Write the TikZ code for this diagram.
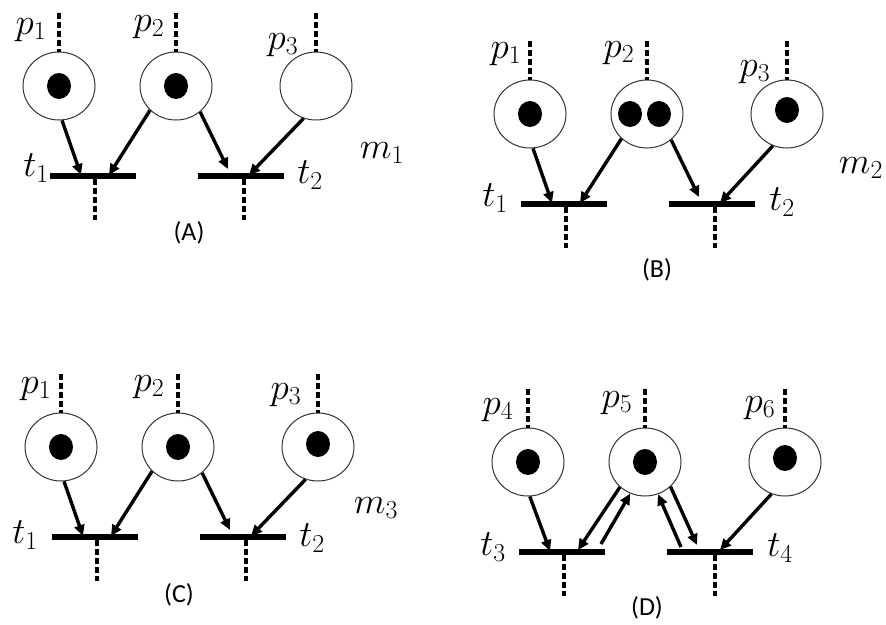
\RequirePackage{fix-cm}
\documentclass[tikz,border=0pt]{standalone}
\usepackage{fontspec}
\usepackage{tikz}
\usetikzlibrary{arrows.meta,shapes.geometric}
\newfontfamily\capfont{Carlito}

\begin{document}
\begin{tikzpicture}[x=1pt,y=-1pt,>={Triangle[length=11pt,width=10pt]},
  place/.style={ellipse,draw=black!80,line width=1pt,minimum width=72pt,minimum height=68pt,inner sep=0pt},
  bar/.style={rectangle,fill=black,minimum width=86pt,minimum height=5.5pt,inner sep=0pt},
  arc/.style={->,line width=3.4pt},
  stub/.style={line width=3.3pt,dash pattern=on 6pt off 3pt},
  lab/.style={font=\fontsize{37}{43}\selectfont,inner sep=0pt},
  paneltag/.style={font=\capfont\fontsize{26}{30}\selectfont,inner sep=0pt}]
  \useasboundingbox (0,0) rectangle (886,624);

  \begin{scope}[name prefix=a-]
    \node[place] (p1) at (59,86) {};
    \node[place] (p2) at (176,86) {};
    \node[place] (p3) at (316,86) {};
    \node[bar] (t1) at (93,176) {};
    \node[bar] (t2) at (241,176) {};
    \fill (p1) ellipse[x radius=12,y radius=13];
    \fill (p2) ellipse[x radius=12,y radius=13];
    \coordinate (in1) at (59,13);
    \coordinate (in2) at (176,13);
    \coordinate (in3) at (316,13);
    \coordinate (out1) at (95,220);
    \coordinate (out2) at (244,220);
    \coordinate (t1a) at (81,175);
    \coordinate (t1b) at (109,175);
    \coordinate (t2a) at (228,169);
    \coordinate (t2b) at (249,175);
    \draw[stub] (in1) -- (p1.north);
    \draw[stub] (in2) -- (p2.north);
    \draw[stub] (in3) -- (p3.north);
    \draw[stub] (t1.south -| out1) -- (out1);
    \draw[stub] (t2.south -| out2) -- (out2);
    \draw[arc] (p1.-85) -- (t1a);
    \draw[arc] (p2.-137) -- (t1b);
    \draw[arc] (p2.-47) -- (t2a);
    \draw[arc] (p3.-111) -- (t2b);
    \node[lab] (lp1) at (31,30) {$p_1$};
    \node[lab] (lp2) at (149,27) {$p_2$};
    \node[lab] (lp3) at (283,45) {$p_3$};
    \node[lab] (lt1) at (36,168) {$t_1$};
    \node[lab] (lt2) at (310,175) {$t_2$};
    \node[lab] (lm) at (382,153) {$m_1$};
    \node[paneltag] (tag) at (189,233) {(A)};
  \end{scope}

  \begin{scope}[shift={(471,28)},name prefix=b-]
    \node[place] (p1) at (59,86) {};
    \node[place] (p2) at (176,86) {};
    \node[place] (p3) at (316,86) {};
    \node[bar] (t1) at (93,176) {};
    \node[bar] (t2) at (241,176) {};
    \fill (p1) ellipse[x radius=12,y radius=13];
    \fill ([xshift=-17pt]p2.center) ellipse[x radius=12,y radius=13];
    \fill ([xshift=12pt]p2.center) ellipse[x radius=12,y radius=13];
    \fill ([yshift=4pt]p3.center) ellipse[x radius=12,y radius=13];
    \coordinate (in1) at (59,13);
    \coordinate (in2) at (176,13);
    \coordinate (in3) at (316,13);
    \coordinate (out1) at (95,220);
    \coordinate (out2) at (244,220);
    \coordinate (t1a) at (81,175);
    \coordinate (t1b) at (109,175);
    \coordinate (t2a) at (228,169);
    \coordinate (t2b) at (249,175);
    \draw[stub] (in1) -- (p1.north);
    \draw[stub] (in2) -- (p2.north);
    \draw[stub] (in3) -- (p3.north);
    \draw[stub] (t1.south -| out1) -- (out1);
    \draw[stub] (t2.south -| out2) -- (out2);
    \draw[arc] (p1.-85) -- (t1a);
    \draw[arc] (p2.-136) -- (t1b);
    \draw[arc] (p2.-47) -- (t2a);
    \draw[arc] (p3.-114) -- (t2b);
    \node[lab] (lp1) at (35,26) {$p_1$};
    \node[lab] (lp2) at (148,25) {$p_2$};
    \node[lab] (lp3) at (284,44) {$p_3$};
    \node[lab] (lt1) at (24,170) {$t_1$};
    \node[lab] (lt2) at (311,174) {$t_2$};
    \node[lab] (lm) at (390,140) {$m_2$};
    \node[paneltag] (tag) at (186,242) {(B)};
  \end{scope}

  \begin{scope}[shift={(2,361)},name prefix=c-]
    \node[place] (p1) at (59,86) {};
    \node[place] (p2) at (176,86) {};
    \node[place] (p3) at (316,86) {};
    \node[bar] (t1) at (93,176) {};
    \node[bar] (t2) at (241,176) {};
    \fill (p1) ellipse[x radius=12,y radius=13];
    \fill (p2) ellipse[x radius=12,y radius=13];
    \fill ([yshift=3pt]p3.center) ellipse[x radius=12,y radius=13];
    \coordinate (in1) at (59,13);
    \coordinate (in2) at (176,13);
    \coordinate (in3) at (316,13);
    \coordinate (out1) at (95,220);
    \coordinate (out2) at (244,220);
    \coordinate (t1a) at (81,175);
    \coordinate (t1b) at (109,175);
    \coordinate (t2a) at (228,169);
    \coordinate (t2b) at (249,175);
    \draw[stub] (in1) -- (p1.north);
    \draw[stub] (in2) -- (p2.north);
    \draw[stub] (in3) -- (p3.north);
    \draw[stub] (t1.south -| out1) -- (out1);
    \draw[stub] (t2.south -| out2) -- (out2);
    \draw[arc] (p1.-85) -- (t1a);
    \draw[arc] (p2.-137) -- (t1b);
    \draw[arc] (p2.-47) -- (t2a);
    \draw[arc] (p3.-111) -- (t2b);
    \node[lab] (lp1) at (34,28) {$p_1$};
    \node[lab] (lp2) at (147,26) {$p_2$};
    \node[lab] (lp3) at (284,34) {$p_3$};
    \node[lab] (lt1) at (23,174) {$t_1$};
    \node[lab] (lt2) at (310,177) {$t_2$};
    \node[lab] (lm) at (374,147) {$m_3$};
    \node[paneltag] (tag) at (177,234) {(C)};
  \end{scope}

  \begin{scope}[shift={(469,376)},name prefix=d-]
    \node[place] (p4) at (59,86) {};
    \node[place] (p5) at (176,86) {};
    \node[place] (p6) at (316,86) {};
    \node[bar] (t3) at (93,176) {};
    \node[bar] (t4) at (241,176) {};
    \fill (p4) ellipse[x radius=12,y radius=13];
    \fill (p5) ellipse[x radius=12,y radius=13];
    \fill ([yshift=4pt]p6.center) ellipse[x radius=12,y radius=13];
    \coordinate (in4) at (59,13);
    \coordinate (in5) at (176,13);
    \coordinate (in6) at (316,13);
    \coordinate (out3) at (95,220);
    \coordinate (out4) at (246,220);
    \coordinate (t3a) at (81,175);
    \coordinate (t3b) at (109,174);
    \coordinate (t3c) at (132,168);
    \coordinate (t4c) at (212,171);
    \coordinate (t4a) at (228,169);
    \coordinate (t4b) at (251,174);
    \draw[stub] (in4) -- (p4.north);
    \draw[stub] (in5) -- (p5.north);
    \draw[stub] (in6) -- (p6.north);
    \draw[stub] (t3.south -| out3) -- (out3);
    \draw[stub] (t4.south -| out4) -- (out4);
    \draw[arc] (p4.-87) -- (t3a);
    \draw[arc] (p5.-135) -- (t3b);
    \draw[arc] (t3c) -- (p5.-115);
    \draw[arc] (t4c) -- (p5.-68);
    \draw[arc] (p5.-44) -- (t4a);
    \draw[arc] (p6.-113) -- (t4b);
    \node[lab] (lp4) at (29,34) {$p_4$};
    \node[lab] (lp5) at (148,27) {$p_5$};
    \node[lab] (lp6) at (291,32) {$p_6$};
    \node[lab] (lt3) at (24,171) {$t_3$};
    \node[lab] (lt4) at (311,172) {$t_4$};
    \node[paneltag] (tag) at (178,232) {(D)};
  \end{scope}
\end{tikzpicture}
\end{document}
